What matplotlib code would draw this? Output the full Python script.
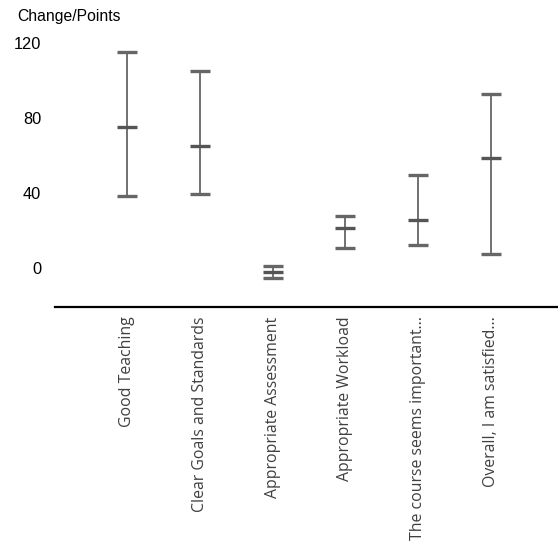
import matplotlib.pyplot as plt

categories = [
    "Good Teaching",
    "Clear Goals and Standards",
    "Appropriate Assessment",
    "Appropriate Workload",
    "The course seems important...",
    "Overall, I am satisfied...",
]
high = [115, 105, 1, 28, 49.5, 93]
mid = [75, 65, -2, 21.5, 25.5, 58.5]
low = [38.5, 39.5, -5.5, 10.5, 12.5, 7.5]
y_ticks = [0, 40, 80, 120]

fig = plt.figure(figsize=(5.58, 5.44), dpi=100)
ax = fig.add_axes([55 / 558, 1 - 306.7 / 544, 1 - 55 / 558, (306.7 - 33.6) / 544])

x = list(range(len(categories)))
yerr = [[m - l for m, l in zip(mid, low)], [h - m for h, m in zip(high, mid)]]
ax.errorbar(
    x, mid, yerr=yerr, fmt="_", color="#555555", ecolor="#666666",
    elinewidth=1.3, markersize=15, markeredgewidth=2.4,
    capsize=7.5, capthick=2.4,
)

ax.set_xlim(-0.99, 5.92)
ax.set_ylim(-20.6, 125)
ax.set_yticks(y_ticks)
ax.set_yticklabels([str(v) for v in y_ticks], family="Liberation Sans", fontsize=11.8)
ax.set_xticks(x)
ax.set_xticklabels(categories, rotation=90, va="top", ha="center",
                   family="Open Sans", fontsize=11.4, color="#404040")
ax.tick_params(axis="y", length=0, pad=10)
ax.tick_params(axis="x", length=0, pad=7)

for side in ["top", "right", "left"]:
    ax.spines[side].set_visible(False)
ax.spines["bottom"].set_linewidth(1.6)
ax.spines["bottom"].set_color("black")

fig.text(17 / 558, 1 - 16 / 544, "Change/Points", family="Liberation Sans",
         fontsize=11.3, va="center", ha="left")

fig.savefig("out.png", dpi=100)
